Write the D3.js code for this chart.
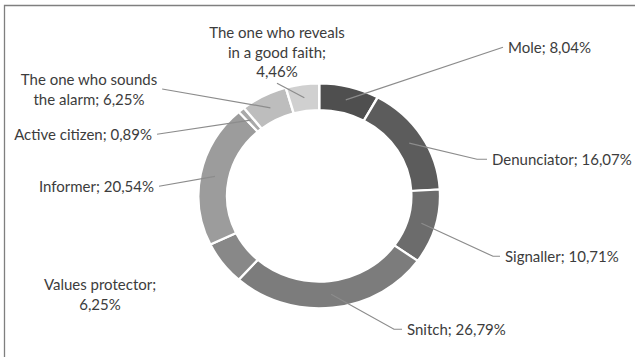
<!DOCTYPE html>
<html>
<head>
<meta charset="utf-8">
<script src="https://cdn.jsdelivr.net/npm/d3@7"></script>
<style>
    body { margin: 0; background: #fff; }
    text { font-family: Lato, "Open Sans", sans-serif; font-size: 15px; fill: #3c3c3c; }
</style>
</head>
<body>
<div id="chart"></div>
<script>
// data (percent)
var categories = ["Mole", "Denunciator", "Signaller", "Snitch", "Values protector",
    "Informer", "Active citizen", "The one who sounds the alarm", "The one who reveals in a good faith"];
var values = [8.04, 16.07, 10.71, 26.79, 6.25, 20.54, 0.89, 6.25, 4.46];

var fills = ["#4f4f4f", "#5c5c5c", "#6c6c6c", "#7c7c7c", "#888888", "#9c9c9c", "#a9a9a9", "#bdbdbd", "#d0d0d0"];

// label placement, one per slice (same order as categories)
var label_layout = [
    { x: 508, y: 48, anchor: "start", lines: [3], leader: "right", elbow: 0 },
    { x: 492, y: 160, anchor: "start", lines: [2], leader: "right", elbow: 10 },
    { x: 505, y: 257, anchor: "start", lines: [2], leader: "right", elbow: 7 },
    { x: 407, y: 330, anchor: "start", lines: [2], leader: "right", elbow: 8 },
    { x: 100, y: 285, anchor: "middle", lines: [2, 1], leader: null },
    { x: 154, y: 187, anchor: "end", lines: [2], leader: "left" },
    { x: 152, y: 135, anchor: "end", lines: [3], leader: "left" },
    { x: 89, y: 80, anchor: "middle", lines: [4, 3], leader: "left" },
    { x: 277, y: 33, anchor: "middle", lines: [4, 4, 1], leader: "bottom" }
];

function draw_chart() {
    const W = 635, H = 357;
    const CX = 319.2, CY = 195.8;
    const SX = 1.074;          // picture is stretched a little sideways
    const R_OUT = 112.5, R_IN = 85.8, R_MID = 99;
    const LINE_H = 19.5;

    var svg = d3.select("#chart").append("svg")
        .attr("width", W)
        .attr("height", H);

    // chart area border (only top and left show)
    svg.append("path")
        .attr("d", "M4.5," + H + "V5.5H" + W)
        .attr("fill", "none")
        .attr("stroke", "#7f7f7f")
        .attr("stroke-width", 1.3);

    var pie = d3.pie().sort(null).value(function (d) { return d; });
    var arcs = pie(values);

    var arc = d3.arc().innerRadius(R_IN).outerRadius(R_OUT);

    var ring = svg.append("g")
        .attr("transform", "translate(" + CX + "," + CY + ") scale(" + SX + ",1)");

    ring.selectAll("path")
        .data(arcs)
        .enter()
        .append("path")
        .attr("d", arc)
        .attr("fill", function (d, i) { return fills[i]; })
        .attr("stroke", "#fff")
        .attr("stroke-width", 2.2);

    function anchor_point(d) {
        var a = (d.startAngle + d.endAngle) / 2;
        return [CX + SX * R_MID * Math.sin(a), CY - R_MID * Math.cos(a)];
    }

    var leaders = svg.append("g");
    var labels = svg.append("g");

    arcs.forEach(function (d, i) {
        var lay = label_layout[i];
        var pct = d3.format(".2f")(values[i]).replace(".", ",") + "%";
        var words = (categories[i] + "; " + pct).split(" ");
        var rows = [], k = 0;
        lay.lines.forEach(function (n) {
            rows.push(words.slice(k, k + n).join(" "));
            k += n;
        });

        var t = labels.append("text")
            .attr("text-anchor", lay.anchor);
        rows.forEach(function (r, j) {
            t.append("tspan")
                .attr("x", lay.x)
                .attr("y", lay.y + j * LINE_H)
                .attr("dy", "0.35em")
                .text(r);
        });

        if (!lay.leader) return;
        var bb = t.node().getBBox();
        var p0 = anchor_point(d);
        var pts = [p0];
        var my = bb.y + bb.height / 2;
        if (lay.leader === "right") {
            var ex = bb.x - 5;
            if (lay.elbow) pts.push([ex - lay.elbow, my]);
            pts.push([ex, my]);
        } else if (lay.leader === "left") {
            pts.push([bb.x + bb.width + 5, my]);
        } else {
            pts.push([bb.x + bb.width / 2, bb.y + bb.height + 3]);
        }

        leaders.append("path")
            .attr("d", d3.line()(pts))
            .attr("fill", "none")
            .attr("stroke", "#8c8c8c")
            .attr("stroke-width", 1.2);
    });
}

draw_chart();
</script>
</body>
</html>
